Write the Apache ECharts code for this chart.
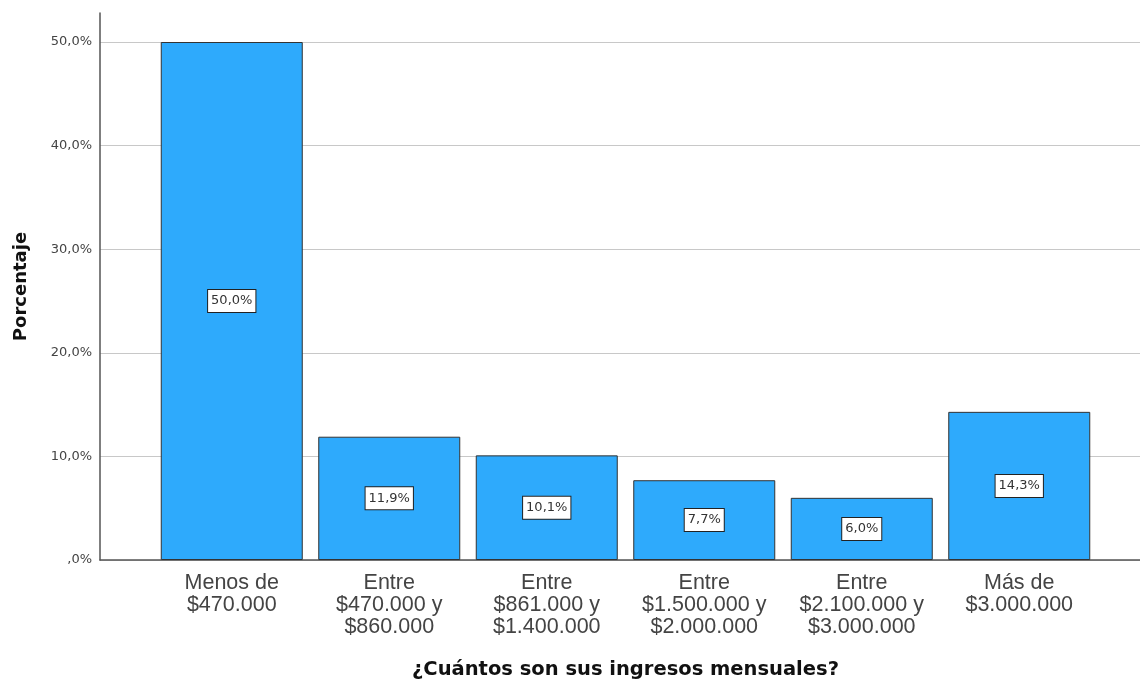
<!DOCTYPE html>
<html>
<head>
<meta charset="utf-8">
<script src="https://cdn.jsdelivr.net/npm/echarts@6/dist/echarts.min.js"></script>
<style>
  html, body { margin: 0; padding: 0; background: #fff; }
  #chart { width: 1140px; height: 682px; }
</style>
</head>
<body>
<div id="chart"></div>
<script>
// Income brackets and share of respondents (%)
const categories = [
  'Menos de\n$470.000',
  'Entre\n$470.000 y\n$860.000',
  'Entre\n$861.000 y\n$1.400.000',
  'Entre\n$1.500.000 y\n$2.000.000',
  'Entre\n$2.100.000 y\n$3.000.000',
  'Más de\n$3.000.000'
];
const percentages = [50.0, 11.9, 10.1, 7.7, 6.0, 14.3];
const yTicks = [0, 10, 20, 30, 40, 50];

const Y_MAX = 52.8;
const SANS = '"Liberation Sans", Arial, sans-serif';
const WIDE = '"DejaVu Sans", Verdana, sans-serif';

function pct(v) {
  const s = v.toFixed(1).replace('.', ',');
  return (v === 0 ? ',0' : s) + '%';
}

const chart = echarts.init(document.getElementById('chart'), null, { renderer: 'canvas' });

chart.setOption({
  animation: false,
  textStyle: { fontFamily: SANS },
  grid: [
    // frame with value axis, gridlines and baseline
    { left: 100, right: 0, top: 13, bottom: 122, containLabel: false, outerBoundsMode: 'none' },
    // inset band for the bars
    { left: 153, right: 42, top: 13, bottom: 122, containLabel: false, outerBoundsMode: 'none' }
  ],
  xAxis: [
    {
      gridIndex: 0, type: 'value', min: 0, max: 1,
      axisLine: { show: true, lineStyle: { color: '#555', width: 1.5 } },
      axisTick: { show: false }, axisLabel: { show: false }, splitLine: { show: false }
    },
    {
      gridIndex: 1, type: 'category', data: categories,
      axisLine: { show: false }, axisTick: { show: false },
      axisLabel: {
        color: '#444', fontSize: 21.5, lineHeight: 22, margin: 12,
        fontFamily: SANS, interval: 0
      },
      name: '¿Cuántos son sus ingresos mensuales?',
      nameLocation: 'middle', nameGap: 100,
      nameTextStyle: { fontSize: 19.5, fontWeight: 'bold', color: '#111', fontFamily: WIDE }
    }
  ],
  yAxis: [
    {
      gridIndex: 0, type: 'value', min: 0, max: Y_MAX, interval: 10,
      axisLine: { show: true, lineStyle: { color: '#555', width: 1.5 } },
      axisTick: { show: false },
      axisLabel: {
        color: '#444', fontSize: 13, margin: 8, showMaxLabel: false, fontFamily: WIDE,
        formatter: v => (yTicks.includes(v) ? pct(v) : '')
      },
      splitLine: {
        show: true,
        lineStyle: { color: ['#c8c8c8', '#c8c8c8', '#c8c8c8', '#c8c8c8', '#c8c8c8', '#c8c8c8', 'rgba(0,0,0,0)'], width: 1 }
      },
      name: 'Porcentaje', nameLocation: 'middle', nameGap: 70, nameRotate: 90,
      nameTextStyle: { fontSize: 18, fontWeight: 'bold', color: '#111', fontFamily: WIDE }
    },
    {
      gridIndex: 1, type: 'value', min: 0, max: Y_MAX, interval: 10, show: false,
      splitLine: { show: false }
    }
  ],
  series: [
    {
      type: 'bar',
      xAxisIndex: 1, yAxisIndex: 1,
      data: percentages,
      barWidth: 142,
      itemStyle: { color: '#2EAAFC', borderColor: '#333', borderWidth: 1 },
      label: {
        show: true, position: 'inside',
        formatter: p => pct(p.value),
        color: '#333', fontSize: 13, fontFamily: WIDE,
        backgroundColor: '#fff', borderColor: '#222', borderWidth: 1,
        padding: [5, 3, 4, 3]
      }
    }
  ]
});
</script>
</body>
</html>
